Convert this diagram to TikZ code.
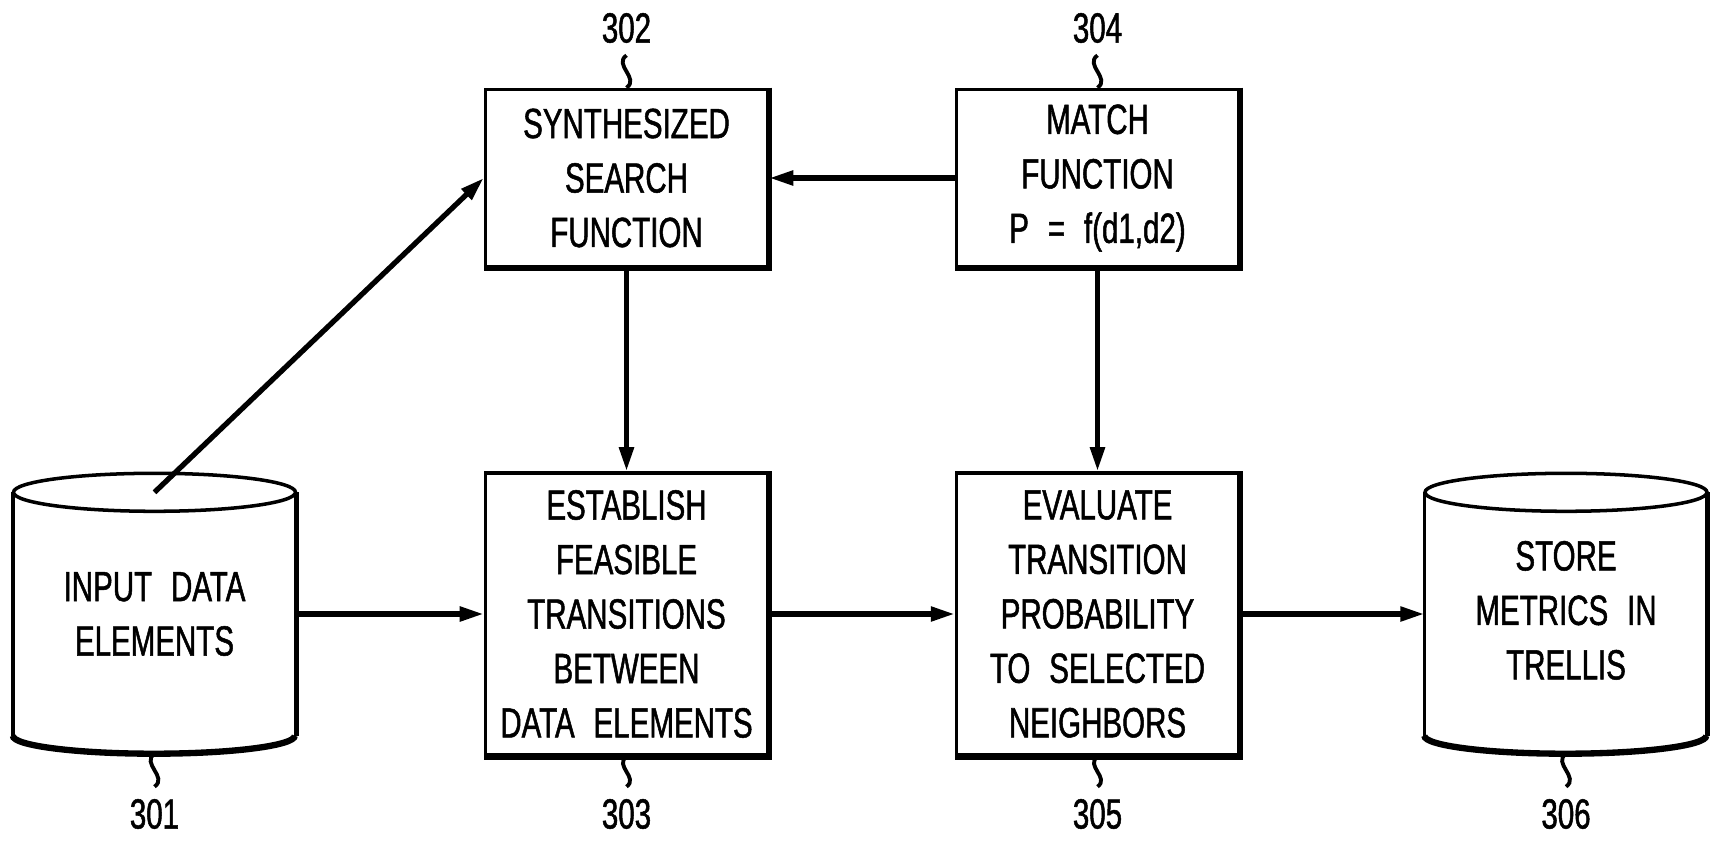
\documentclass[tikz,border=0pt]{standalone}
\usepackage{fontspec}
\setmainfont[FakeStretch=0.70,FakeBold=1.2,WordSpace=2.3]{Liberation Sans}
\usetikzlibrary{positioning,arrows.meta}

\tikzset{
  block/.style={draw,line width=1pt,minimum width=2.82cm,align=center,
    font=\fontsize{12}{15.5}\selectfont},
  store/.style={minimum width=2.82cm,minimum height=2.42cm,align=center,
    font=\fontsize{12}{15.5}\selectfont},
  refnum/.style={font=\fontsize{12}{14}\selectfont},
  flow/.style={-{Triangle[length=2.4mm,width=1.4mm]},line width=1.5pt},
  leader/.style={line width=1.1pt,out=215,in=35,looseness=1.3}
}

\begin{document}
\begin{tikzpicture}[every node/.style={on grid}]
    \useasboundingbox (0,0) rectangle (17.12,-8.46);
    \node[store] (in301) at (1.545,-6.14) {INPUT DATA\\ELEMENTS};
    \node[block,minimum height=2.82cm,right=4.72cm of in301] (est303) {ESTABLISH\\FEASIBLE\\TRANSITIONS\\BETWEEN\\DATA ELEMENTS};
    \node[block,minimum height=2.82cm,right=4.71cm of est303] (eval305) {EVALUATE\\TRANSITION\\PROBABILITY\\TO SELECTED\\NEIGHBORS};
    \node[store,right=4.685cm of eval305] (store306) {\raisebox{-1.2mm}{\begin{tabular}{@{}c@{}}STORE\\METRICS IN\\TRELLIS\end{tabular}}};
    \node[block,minimum height=1.77cm,above=4.36cm of est303] (syn302) {SYNTHESIZED\\SEARCH\\FUNCTION};
    \node[block,minimum height=1.77cm,above=4.36cm of eval305] (match304) {MATCH\\FUNCTION\\P = f(d1,d2)};
    % thicker lower and right edges
    \foreach \b in {syn302,est303,match304,eval305}
      \draw[line width=1.7pt] (\b.north east) -- (\b.south east) -- (\b.south west);
    % cylinders
    \foreach \c in {in301,store306}{
      \draw[line width=1pt] (\c.north west) -- (\c.south west);
      \draw[line width=1.4pt] (\c.north east) -- (\c.south east);
      \draw[line width=1.8pt] (\c.south west) arc[start angle=180,end angle=360,x radius=1.41cm,y radius=1.8mm];
      \draw[line width=1pt] (\c.north) ellipse[x radius=1.41cm,y radius=1.9mm];
    }
    \coordinate[below=1.8mm of in301.south] (in301b);
    \coordinate[below=1.8mm of store306.south] (store306b);
    % reference numerals
    \node[refnum,below=2cm of in301] (l301) {301};
    \node[refnum,above=1.5cm of syn302] (l302) {302};
    \node[refnum,below=2cm of est303] (l303) {303};
    \node[refnum,above=1.5cm of match304] (l304) {304};
    \node[refnum,below=2cm of eval305] (l305) {305};
    \node[refnum,below=2cm of store306] (l306) {306};
    \draw[leader] (in301b) to (l301.north);
    \draw[leader] (l302.south) to (syn302.north);
    \draw[leader] (est303.south) to (l303.north);
    \draw[leader] (l304.south) to (match304.north);
    \draw[leader] (eval305.south) to (l305.north);
    \draw[leader] (store306b) to (l306.north);
    % flow
    \draw[flow] (in301.north) -- (syn302.west);
    \draw[flow] (in301) -- (est303);
    \draw[flow] (syn302) -- (est303);
    \draw[flow] (match304) -- (syn302);
    \draw[flow] (match304) -- (eval305);
    \draw[flow] (est303) -- (eval305);
    \draw[flow] (eval305) -- (store306);
\end{tikzpicture}
\end{document}
